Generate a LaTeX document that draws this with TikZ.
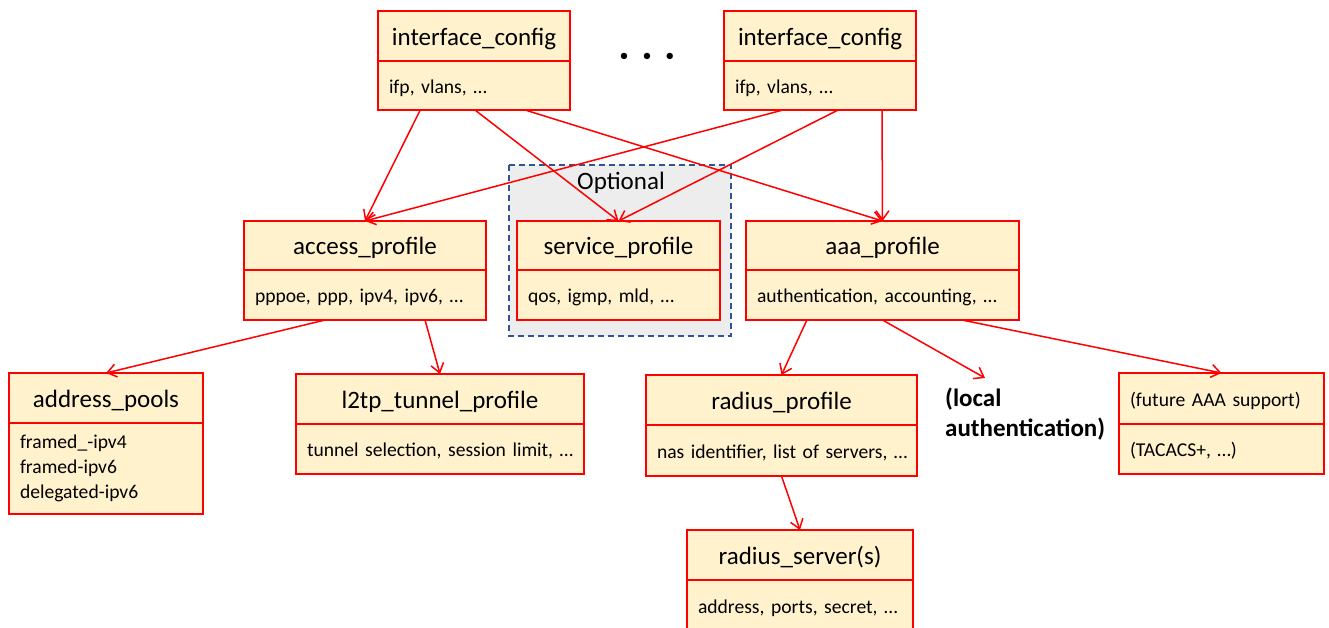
\documentclass[tikz,border=0pt]{standalone}
\usepackage{fontspec}
\setmainfont{Carlito}[WordSpace=0.8]
\usetikzlibrary{arrows.meta,calc}
\definecolor{boxfill}{HTML}{FFF2CC}
\definecolor{optfill}{HTML}{EDEDED}
\definecolor{optline}{HTML}{2F5597}
\definecolor{boxred}{HTML}{FF0000}
\tikzset{
  part/.style={draw=boxred, line width=2.6pt, fill=boxfill, outer sep=0pt, inner sep=0pt, anchor=north west},
  hdr/.style={part, font=\fontsize{25}{30}\selectfont, align=center, text height=23pt, text depth=5pt},
  bdy/.style={part, font=\fontsize{19.6}{25}\selectfont, align=left, inner xsep=11pt},
  bdyone/.style={bdy, text height=19pt, text depth=4pt},
  arr/.style={draw=boxred, line width=1.5pt, -{Straight Barb[length=9pt,width=13pt,line width=1.5pt]}},
  optbox/.style={draw=optline, fill=optfill, line width=1.5pt, dash pattern=on 6pt off 4pt},
}
\newcommand{\umlbox}[9][bdyone]{%
  \pgfmathsetmacro\umltw{#5-22}%
  \node[hdr, minimum width=#5pt, minimum height=#6pt] (#2h) at (#3,#4) {#8};
  \node[#1, minimum width=#5pt, minimum height=#7pt, text width=\umltw pt] (#2) at (#2h.south west) {#9};
}
\begin{document}
\begin{tikzpicture}[x=1pt,y=-1pt]
\clip (0,0) rectangle (1329,627);
\fill[white] (0,0) rectangle (1329,627);
% optional group
\draw[optbox] (509,165) rectangle (731,336);
\node[font=\fontsize{25}{30}\selectfont] (optl) at (621,183) {Optional};
% boxes
\umlbox{ic1}{378}{11}{192}{50}{49}{interface\_config}{\mbox{ifp, vlans, …}}
\umlbox{ic2}{724}{11}{192}{50}{49}{interface\_config}{\mbox{ifp, vlans, …}}
\node[font=\fontsize{18}{18}\selectfont] (dots) at (647,57) {•\hspace{14pt}•\hspace{14pt}•};
\umlbox{acc}{244}{221}{242}{49}{50}{access\_profile}{\mbox{pppoe, ppp, ipv4, ipv6, …}}
\umlbox{svc}{517}{221}{203}{49}{50}{service\_profile}{\mbox{qos, igmp, mld, …}}
\umlbox{aaa}{746}{221}{273}{49}{50}{aaa\_profile}{\mbox{authentication, accounting, …}}
\umlbox[bdy]{addr}{9}{373}{194}{50}{91}{address\_pools}{framed\_-ipv4\\framed-ipv6\\delegated-ipv6}
\umlbox{l2tp}{296}{374}{288}{50}{50}{l2tp\_tunnel\_profile}{\mbox{tunnel selection, session limit, …}}
\umlbox{rad}{646}{375}{271}{50}{51}{radius\_profile}{\mbox{nas identifier, list of servers, …}}
\umlbox{srv}{687}{530}{226}{50}{52}{radius\_server(s)}{\mbox{address, ports, secret, …}}
\node[bdyone, minimum width=205pt, minimum height=51pt, text width=183pt] (futh) at (1119,373) {\mbox{(future AAA support)}};
\node[bdyone, minimum width=205pt, minimum height=50pt, text width=183pt] (fut) at (futh.south west) {\mbox{(TACACS+, …)}};
\node[font=\fontsize{25}{30}\bfseries\selectfont, align=left, anchor=north west, inner sep=0pt] (local) at (945,388) {(local\\authentication)};
\coordinate (localtip) at (985,378);
% connectors
\draw[arr] ($(ic1.south west)!0.22!(ic1.south east)$) -- (acch.north);
\draw[arr] ($(ic1.south west)!0.505!(ic1.south east)$) -- (svch.north);
\draw[arr] ($(ic1.south west)!0.766!(ic1.south east)$) -- (aaah.north);
\draw[arr] ($(ic2.south west)!0.307!(ic2.south east)$) -- (acch.north);
\draw[arr] ($(ic2.south west)!0.594!(ic2.south east)$) -- (svch.north);
\draw[arr] ($(ic2.south west)!0.823!(ic2.south east)$) -- (aaah.north);
\draw[arr] ($(acc.south west)!0.335!(acc.south east)$) -- (addrh.north);
\draw[arr] ($(acc.south west)!0.748!(acc.south east)$) -- (l2tph.north);
\draw[arr] ($(aaa.south west)!0.223!(aaa.south east)$) -- (radh.north);
\draw[arr] (aaa.south) -- (localtip);
\draw[arr] ($(aaa.south west)!0.791!(aaa.south east)$) -- (futh.north);
\draw[arr] (rad.south) -- (srvh.north);
\end{tikzpicture}
\end{document}
